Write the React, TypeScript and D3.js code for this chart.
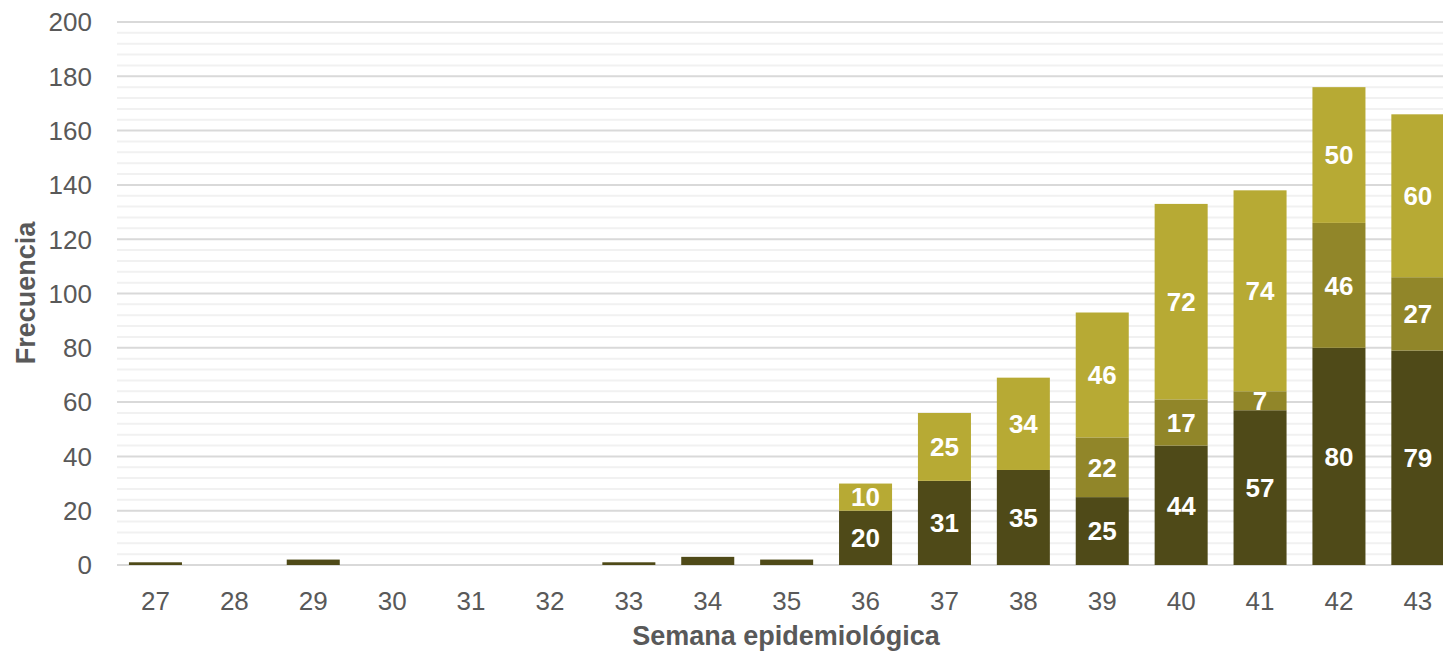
import React from 'react';
import * as d3 from 'd3';

const weeks = ['27', '28', '29', '30', '31', '32', '33', '34', '35', '36', '37', '38', '39', '40', '41', '42', '43'];
const serieA = [1, 0, 2, 0, 0, 0, 1, 3, 2, 20, 31, 35, 25, 44, 57, 80, 79];
const serieB = [0, 0, 0, 0, 0, 0, 0, 0, 0, 0, 0, 0, 22, 17, 7, 46, 27];
const serieC = [0, 0, 0, 0, 0, 0, 0, 0, 0, 10, 25, 34, 46, 72, 74, 50, 60];
const colors = ['#4f4a18', '#918629', '#b7aa34'];
const yTicks = [0, 20, 40, 60, 80, 100, 120, 140, 160, 180, 200];

const W = 1443, H = 651;
const font = '"Liberation Sans", Arial, Helvetica, sans-serif';

export default function App() {
  const x = d3.scaleBand<string>()
    .domain(weeks)
    .range([116, 116 + 17 * 78.9])
    .paddingInner(0.328)
    .paddingOuter(0.164);
  const y = d3.scaleLinear().domain([0, 200]).range([565, 22]);

  const rows = weeks.map((w, i) => ({ week: w, a: serieA[i], b: serieB[i], c: serieC[i] }));
  const stack = d3.stack<any>().keys(['a', 'b', 'c'])(rows);

  const minor = d3.range(0, 201, 4).filter(v => v % 20 !== 0);

  return (
    <div style={{ position: 'fixed', left: 0, top: 0 }}>
      <svg width={W} height={H} style={{ display: 'block', background: '#fff' }}>
        {minor.map(v => (
          <line key={'m' + v} x1={117} x2={W} y1={y(v)} y2={y(v)} stroke="#f1f1f1" strokeWidth={2} />
        ))}
        {yTicks.map(v => (
          <g key={'t' + v}>
            <line x1={117} x2={W} y1={y(v)} y2={y(v)} stroke="#d9d9d9" strokeWidth={2} />
            <text x={92} y={y(v)} dy="0.36em" textAnchor="end" fontFamily={font} fontSize={26} fill="#595959">{v}</text>
          </g>
        ))}
        {stack.map((s, si) => (
          <g key={si}>
            {s.map((d, i) => {
              const h = y(d[0]) - y(d[1]);
              if (h <= 0) return null;
              const bx = x(weeks[i])!;
              const v = d[1] - d[0];
              return (
                <g key={i}>
                  <rect x={bx} y={y(d[1])} width={x.bandwidth()} height={h} fill={colors[si]} />
                  {v >= 5 && (
                    <text x={bx + x.bandwidth() / 2} y={(y(d[0]) + y(d[1])) / 2} dy="0.36em" textAnchor="middle"
                      fontFamily={font} fontSize={26} fontWeight="bold" fill="#fff">{v}</text>
                  )}
                </g>
              );
            })}
          </g>
        ))}
        {weeks.map(w => (
          <text key={w} x={x(w)! + x.bandwidth() / 2} y={610} textAnchor="middle" fontFamily={font} fontSize={26} fill="#595959">{w}</text>
        ))}
        <text x={786} y={645} textAnchor="middle" fontFamily={font} fontSize={27} fontWeight="bold" fill="#595959">Semana epidemiológica</text>
        <text transform={`translate(35,293) rotate(-90)`} textAnchor="middle" fontFamily={font} fontSize={27} fontWeight="bold" fill="#595959">Frecuencia</text>
      </svg>
    </div>
  );
}
